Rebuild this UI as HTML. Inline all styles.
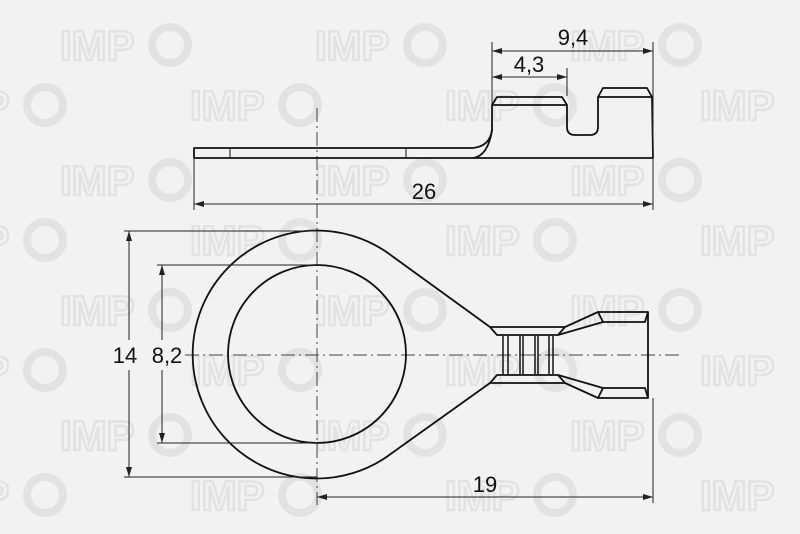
<!DOCTYPE html>
<html><head><meta charset="utf-8"><style>
html,body{margin:0;padding:0;background:#f2f2f2;}
svg{display:block;}
.wm{font-family:"Liberation Sans",sans-serif;font-weight:bold;font-size:42px;fill:none;stroke:#e2e2e2;stroke-width:2.5;}
.t{font-family:"Liberation Sans",sans-serif;font-size:22px;fill:#111;}
</style></head><body>
<svg width="800" height="534" viewBox="0 0 800 534" xmlns="http://www.w3.org/2000/svg">
<rect width="800" height="534" fill="#f2f2f2"/>
<defs>
<marker id="a" markerWidth="10" markerHeight="6" refX="10" refY="3" orient="auto-start-reverse" markerUnits="userSpaceOnUse"><path d="M0,0 L10,3 L0,6 z" fill="#222"/></marker>
</defs>
<g class="wm">
<text x="60" y="60">IMP</text><text x="315" y="60">IMP</text><text x="570" y="60">IMP</text>
<text x="-65" y="120">IMP</text><text x="190" y="120">IMP</text><text x="445" y="120">IMP</text><text x="700" y="120">IMP</text>
<text x="60" y="195">IMP</text><text x="315" y="195">IMP</text><text x="570" y="195">IMP</text>
<text x="-65" y="255">IMP</text><text x="190" y="255">IMP</text><text x="445" y="255">IMP</text><text x="700" y="255">IMP</text>
<text x="60" y="325">IMP</text><text x="315" y="325">IMP</text><text x="570" y="325">IMP</text>
<text x="-65" y="385">IMP</text><text x="190" y="385">IMP</text><text x="445" y="385">IMP</text><text x="700" y="385">IMP</text>
<text x="60" y="450">IMP</text><text x="315" y="450">IMP</text><text x="570" y="450">IMP</text>
<text x="-65" y="510">IMP</text><text x="190" y="510">IMP</text><text x="445" y="510">IMP</text><text x="700" y="510">IMP</text>
</g>
<g fill="none" stroke="#e2e2e2" stroke-width="8">
<circle cx="170" cy="45" r="18"/><circle cx="425" cy="45" r="18"/><circle cx="680" cy="45" r="18"/>
<circle cx="45" cy="105" r="18"/><circle cx="300" cy="105" r="18"/><circle cx="555" cy="105" r="18"/>
<circle cx="170" cy="180" r="18"/><circle cx="425" cy="180" r="18"/><circle cx="680" cy="180" r="18"/>
<circle cx="45" cy="240" r="18"/><circle cx="300" cy="240" r="18"/><circle cx="555" cy="240" r="18"/>
<circle cx="170" cy="310" r="18"/><circle cx="425" cy="310" r="18"/><circle cx="680" cy="310" r="18"/>
<circle cx="45" cy="370" r="18"/><circle cx="300" cy="370" r="18"/><circle cx="555" cy="370" r="18"/>
<circle cx="170" cy="435" r="18"/><circle cx="425" cy="435" r="18"/><circle cx="680" cy="435" r="18"/>
<circle cx="45" cy="495" r="18"/><circle cx="300" cy="495" r="18"/><circle cx="555" cy="495" r="18"/>
</g>

<g stroke="#444" stroke-width="1" stroke-dasharray="14,4,2,4" fill="none">
<line x1="317" y1="108" x2="317" y2="505"/>
<line x1="185" y1="355" x2="680" y2="355"/>
</g>

<g fill="none" stroke="#111" stroke-width="1.8" stroke-linejoin="round">
<path d="M194,148 L473,148 Q490,146 492,130 L492,105 L497,97 L562,97 L567,105 L567,127 Q567,135 575,135 L590,135 Q598,135 598,127 L598,97 L603,88 L647,88 L652,97 L653,158 L194,158 Z"/>
<line x1="492" y1="105" x2="567" y2="105"/>
<line x1="598" y1="97" x2="652" y2="97"/>
<path d="M473,158 Q488,156 492,130"/>
</g>
<g stroke="#111" stroke-width="1">
<line x1="230" y1="149" x2="230" y2="157"/><line x1="406" y1="149" x2="406" y2="157"/>
</g>

<g stroke="#222" stroke-width="1" fill="none">
<line x1="492" y1="42" x2="492" y2="104"/>
<line x1="567" y1="68" x2="567" y2="96"/>
<line x1="653" y1="42" x2="653" y2="210"/>
<line x1="194" y1="159" x2="194" y2="210"/>
<line x1="492" y1="51" x2="653" y2="51" marker-start="url(#a)" marker-end="url(#a)"/>
<line x1="492" y1="77" x2="567" y2="77" marker-start="url(#a)" marker-end="url(#a)"/>
<line x1="194" y1="204" x2="653" y2="204" marker-start="url(#a)" marker-end="url(#a)"/>
</g>
<text class="t" x="573" y="45" text-anchor="middle">9,4</text>
<text class="t" x="529" y="72" text-anchor="middle">4,3</text>
<text class="t" x="424" y="199" text-anchor="middle">26</text>

<g fill="none" stroke="#111" stroke-width="1.8" stroke-linejoin="round">
<path d="M392,256 A124,124 0 1 0 392,453 L490,383 L565,383 L598,398 L648,398 L648,312 L598,312 L565,327 L490,327 Z"/>
<circle cx="317" cy="354" r="89"/>
<path d="M490,327 L497,335 L558,335 L565,327"/>
<path d="M490,383 L497,375 L558,375 L565,383"/>
<path d="M558,335 L603,322 L645,322 L648,312 M598,312 L603,322"/>
<path d="M558,375 L603,388 L645,388 L648,398 M598,398 L603,388"/>
</g>
<g stroke="#111" stroke-width="1.5">
<line x1="503" y1="336" x2="503" y2="374"/><line x1="508" y1="336" x2="508" y2="374"/>
<line x1="520" y1="336" x2="520" y2="374"/><line x1="523" y1="336" x2="523" y2="374"/>
<line x1="535" y1="336" x2="535" y2="374"/><line x1="538" y1="336" x2="538" y2="374"/>
<line x1="549" y1="336" x2="549" y2="374"/><line x1="553" y1="336" x2="553" y2="374"/>
</g>

<g stroke="#222" stroke-width="1" fill="none">
<line x1="124" y1="231" x2="317" y2="231"/>
<line x1="124" y1="477" x2="317" y2="477"/>
<line x1="157" y1="265" x2="317" y2="265"/>
<line x1="157" y1="443" x2="317" y2="443"/>
<line x1="129" y1="231" x2="129" y2="340" marker-start="url(#a)"/>
<line x1="129" y1="370" x2="129" y2="477" marker-end="url(#a)"/>
<line x1="162" y1="265" x2="162" y2="340" marker-start="url(#a)"/>
<line x1="162" y1="370" x2="162" y2="443" marker-end="url(#a)"/>
<line x1="653" y1="398" x2="653" y2="503"/>
<line x1="317" y1="497" x2="653" y2="497" marker-start="url(#a)" marker-end="url(#a)"/>
</g>
<text class="t" x="125" y="363" text-anchor="middle">14</text>
<text class="t" x="167" y="363" text-anchor="middle">8,2</text>
<text class="t" x="485" y="492" text-anchor="middle">19</text>
</svg>
</body></html>
